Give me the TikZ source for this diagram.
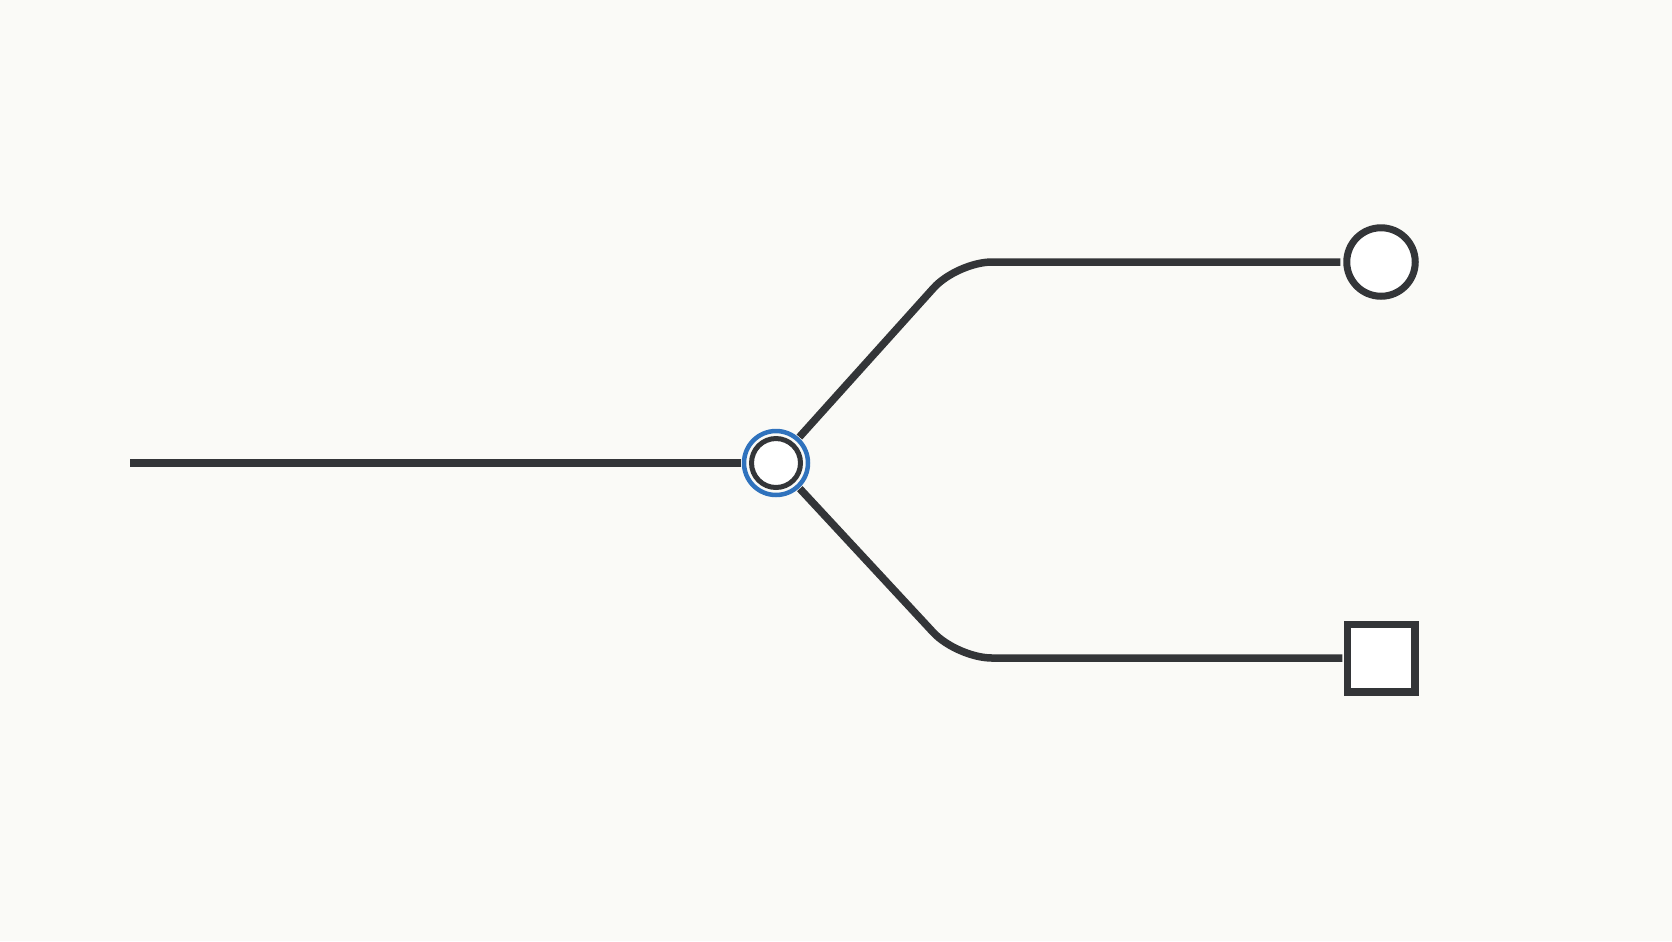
\documentclass[tikz,border=0pt]{standalone}
\definecolor{ink}{HTML}{333538}
\definecolor{ringblue}{HTML}{2F72BD}
\definecolor{paper}{HTML}{FAFAF7}

\begin{document}
\begin{tikzpicture}[x=0.02cm,y=-0.02cm,
			wire/.style={draw=ink,line width=0.15cm},
			hubring/.style={circle,draw=ringblue,line width=0.09cm,minimum size=1.28cm,inner sep=0pt,outer sep=0.06cm},
			hubcore/.style={circle,draw=ink,line width=0.1cm,fill=white,minimum size=0.98cm,inner sep=0pt},
			leafcircle/.style={circle,draw=ink,line width=0.14cm,fill=white,minimum size=1.37cm,inner sep=0pt,outer sep=0.13cm},
			leafsquare/.style={rectangle,draw=ink,line width=0.15cm,fill=white,minimum size=1.35cm,inner sep=0pt,outer sep=0.1cm}]
			\fill[paper] (0,0) rectangle (1672,941);
			\node [hubring] (ring) at (776,463) {};
			\node [hubcore] (hub) at (776,463) {};
			\node [leafcircle] (top) at (1381,262) {};
			\node [leafsquare] (bottom) at (1381,658) {};
			\coordinate (src) at (130,463);
			\coordinate (kneeup) at (957,262);
			\coordinate (kneedown) at (957,658);
			\draw [wire] (src) -- (ring);
			\draw [wire,rounded corners=0.7cm] (ring) -- (kneeup) -- (top);
			\draw [wire,rounded corners=0.7cm] (ring) -- (kneedown) -- (bottom);
		\end{tikzpicture}
\end{document}
